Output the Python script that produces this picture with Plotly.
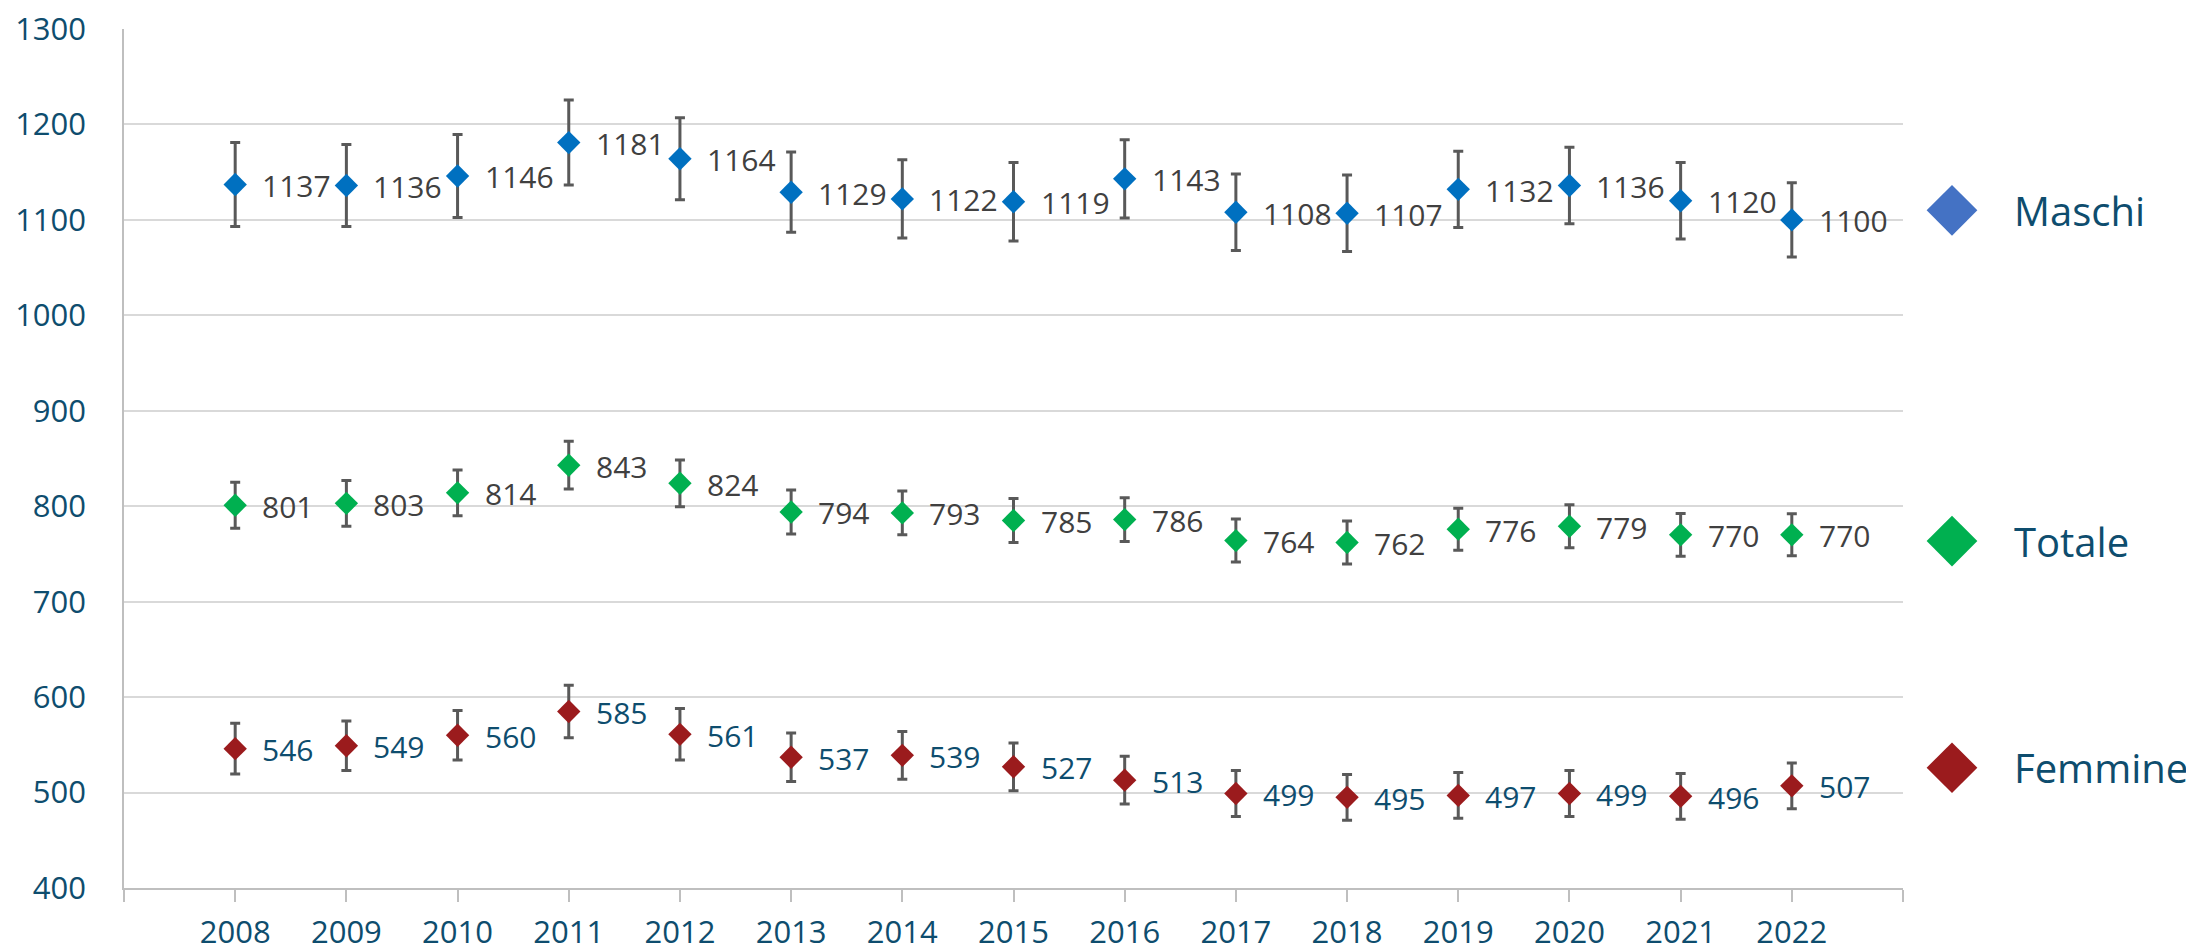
import plotly.graph_objects as go

# ---- data ----
years = list(range(2008, 2023))
maschi = [1137, 1136, 1146, 1181, 1164, 1129, 1122, 1119, 1143, 1108, 1107, 1132, 1136, 1120, 1100]
maschi_err = [44, 43, 43.5, 44.5, 43, 42, 41, 41, 41, 40, 40, 40, 40, 40, 39]
totale = [801, 803, 814, 843, 824, 794, 793, 785, 786, 764, 762, 776, 779, 770, 770]
totale_err = [24, 24, 24, 25, 24.5, 23, 23, 23, 23, 22.5, 22.5, 22, 22.5, 22.5, 22]
femmine = [546, 549, 560, 585, 561, 537, 539, 527, 513, 499, 495, 497, 499, 496, 507]
femmine_err = [26.5, 26, 26, 27.5, 27, 25.5, 25, 25, 25, 24, 24, 24, 24, 24, 24]
series_names = ["Maschi", "Totale", "Femmine"]

# ---- layout / styles ----
W, H = 2186, 944          # page body has an 8px margin
PLOT_L, PLOT_R = 116, 1895
M_T, M_B = 21, 64
X_MIN, X_MAX = 2007, 2023
Y_MIN, Y_MAX = 400, 1300
FONT = "Open Sans"
TXT_BLUE = "#0E4D6E"
TXT_GRAY = "#404040"
ERR_COL = "#595959"
AXIS_COL = "#BFBFBF"
GRID_COL = "#D9D9D9"
marker_cols = ["#0070C0", "#00B050", "#9B1B1D"]
legend_cols = ["#4472C4", "#00B050", "#9B1B1D"]
label_cols = [TXT_GRAY, TXT_GRAY, TXT_BLUE]
# legend placement: y in value units, x in pixels right of plot edge
legend_y = [1110, 763.5, 526]
legend_px = 49

main_frac = (PLOT_R - PLOT_L) / (W - PLOT_L)

fig = go.Figure()

all_vals = [maschi, totale, femmine]
all_errs = [maschi_err, totale_err, femmine_err]

for name, vals, errs, col in zip(series_names, all_vals, all_errs, marker_cols):
    fig.add_trace(go.Scatter(
        x=years, y=vals, mode="markers", name=name, showlegend=False,
        marker=dict(symbol="diamond", size=18, color=col, line=dict(width=0)),
        error_y=dict(type="data", array=errs, visible=True, color=ERR_COL,
                     thickness=3, width=5),
    ))

annotations = []
for vals, lc in zip(all_vals, label_cols):
    for xv, yv in zip(years, vals):
        annotations.append(dict(
            x=xv, y=yv, xref="x", yref="y", text=str(yv), showarrow=False,
            xanchor="left", yanchor="middle", xshift=25, yshift=-1,
            font=dict(family=FONT, size=30, color=lc),
        ))

# custom legend in a side panel
for name, ly, lc in zip(series_names, legend_y, legend_cols):
    fig.add_trace(go.Scatter(
        x=[legend_px], y=[ly], xaxis="x2", yaxis="y2", mode="markers",
        showlegend=False, cliponaxis=False, hoverinfo="skip",
        marker=dict(symbol="diamond", size=39, color=lc, line=dict(width=0)),
    ))
    annotations.append(dict(
        x=legend_px, y=ly, xref="x2", yref="y2", text=name, showarrow=False,
        xanchor="left", yanchor="middle", xshift=60,
        font=dict(family=FONT, size=40, color=TXT_BLUE),
    ))

tickvals = list(range(X_MIN, X_MAX + 1))
ticktext = [str(v) if v in years else "" for v in tickvals]

fig.update_layout(
    width=W, height=H,
    margin=dict(l=PLOT_L, r=0, t=M_T, b=M_B, autoexpand=False),
    paper_bgcolor="white", plot_bgcolor="white",
    font=dict(family=FONT, color=TXT_BLUE),
    annotations=annotations,
    showlegend=False,
    xaxis=dict(
        domain=[0, main_frac], anchor="y",
        range=[X_MIN, X_MAX], tickvals=tickvals, ticktext=ticktext,
        showgrid=False, zeroline=False, automargin=False,
        showline=True, linecolor=AXIS_COL, linewidth=1.5,
        ticks="outside", ticklen=12, tickcolor=AXIS_COL, tickwidth=1.5,
        tickfont=dict(family=FONT, size=31, color=TXT_BLUE),
        ticklabelstandoff=4, ticklabeloverflow="allow",
    ),
    yaxis=dict(
        domain=[0, 1], anchor="x",
        range=[Y_MIN, Y_MAX], dtick=100, tick0=0,
        showgrid=True, gridcolor=GRID_COL, gridwidth=1.5,
        zeroline=False, automargin=False,
        showline=True, linecolor=AXIS_COL, linewidth=1.5,
        ticks="", tickfont=dict(family=FONT, size=31, color=TXT_BLUE),
        ticklabelstandoff=30, ticklabeloverflow="allow",
    ),
    xaxis2=dict(domain=[main_frac, 1], anchor="y2", range=[0, W - PLOT_R],
                visible=False, showgrid=False, zeroline=False),
    yaxis2=dict(domain=[0, 1], anchor="x2", range=[Y_MIN, Y_MAX],
                visible=False, showgrid=False, zeroline=False),
)

fig.write_html("out.html")
